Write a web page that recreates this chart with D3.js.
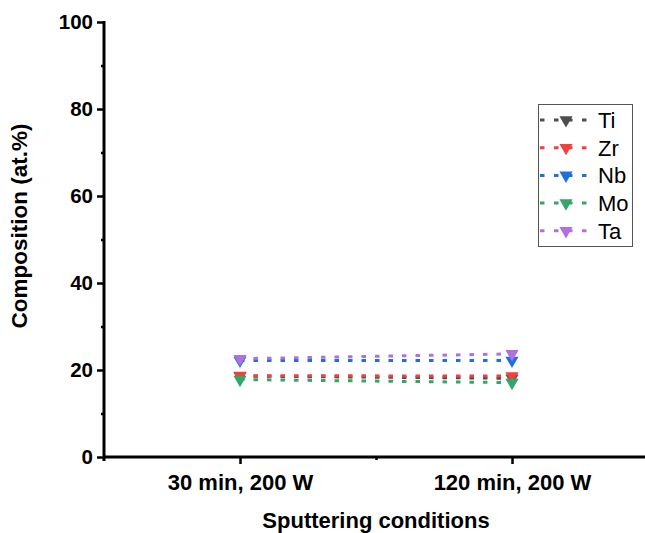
<!DOCTYPE html>
<html>
<head>
<meta charset="utf-8">
<script src="https://cdn.jsdelivr.net/npm/d3@7"></script>
<style>
  body { margin: 0; background: #fff; }
  svg { display: block; font-family: "Liberation Sans", Arial, sans-serif; }
</style>
</head>
<body>
<svg id="chart" width="645" height="533"></svg>
<script>
// Sputtering conditions (x categories)
const conditions = ["30 min, 200 W", "120 min, 200 W"];
// Element names and colours
const elements = ["Ti", "Zr", "Nb", "Mo", "Ta"];
const colors = ["#4d4d4d", "#f0403f", "#1f6fe0", "#33a66b", "#b070e0"];
// Composition (at.%) per element, one value per condition
const tiValues = [18.6, 18.1];
const zrValues = [18.7, 18.6];
const nbValues = [22.2, 22.2];
const moValues = [17.8, 17.1];
const taValues = [22.6, 23.7];
const yTicks = [0, 20, 40, 60, 80, 100];

const series = [tiValues, zrValues, nbValues, moValues, taValues];

const svg = d3.select("#chart");
const plotLeft = 104, plotRight = 648, plotTop = 22, plotBottom = 457;

const x = d3.scaleLinear().domain([0.5, 2.5]).range([plotLeft, plotRight]);
const y = d3.scaleLinear().domain([0, 100]).range([plotBottom, plotTop]);

// Y axis: major ticks every 20, minor ticks every 10
const yAxis = svg.append("g").attr("transform", `translate(${plotLeft},0)`)
  .call(d3.axisLeft(y).tickValues(yTicks).tickSize(7).tickPadding(4));
yAxis.select(".domain").remove();
yAxis.selectAll(".tick line").attr("stroke", "#000").attr("stroke-width", 2.5);
yAxis.selectAll(".tick text").attr("font-size", 20.5).attr("font-weight", "bold").attr("fill", "#000");
svg.append("g").attr("transform", `translate(${plotLeft},0)`)
  .call(d3.axisLeft(y).tickValues(d3.range(10, 100, 20)).tickSize(3).tickFormat(""))
  .call(g => g.select(".domain").remove())
  .selectAll(".tick line").attr("stroke", "#000").attr("stroke-width", 2.5);

// X axis: major ticks at categories, minor tick between
const xAxis = svg.append("g").attr("transform", `translate(0,${plotBottom})`)
  .call(d3.axisBottom(x).tickValues([1, 2]).tickFormat((d) => conditions[d - 1]).tickSize(7).tickPadding(10));
xAxis.select(".domain").remove();
xAxis.selectAll(".tick line").attr("stroke", "#000").attr("stroke-width", 2.5);
xAxis.selectAll(".tick text").attr("font-size", 22).attr("font-weight", "bold").attr("fill", "#000");
svg.append("g").attr("transform", `translate(0,${plotBottom})`)
  .call(d3.axisBottom(x).tickValues([1.5]).tickSize(3).tickFormat(""))
  .call(g => g.select(".domain").remove())
  .selectAll(".tick line").attr("stroke", "#000").attr("stroke-width", 2.5);

// Axis lines
svg.append("line").attr("x1", plotLeft).attr("x2", plotLeft).attr("y1", plotTop - 1).attr("y2", plotBottom + 4)
  .attr("stroke", "#000").attr("stroke-width", 3);
svg.append("line").attr("x1", plotLeft).attr("x2", plotRight).attr("y1", plotBottom).attr("y2", plotBottom)
  .attr("stroke", "#000").attr("stroke-width", 3);

// Axis titles
svg.append("text").attr("x", 376).attr("y", 528).attr("text-anchor", "middle")
  .attr("font-size", 22).attr("font-weight", "bold").text("Sputtering conditions");
svg.append("text").attr("transform", "translate(27,226) rotate(-90)")
  .attr("text-anchor", "middle").attr("font-size", 22.5).attr("font-weight", "bold")
  .text("Composition (at.%)");

const tri = d3.symbol().type(d3.symbolTriangle).size(75);
const line = d3.line().x((d, i) => x(i + 1)).y((d) => y(d));

// Series lines and markers
series.forEach((vals, k) => {
  const g = svg.append("g");
  g.append("path").attr("d", line(vals)).attr("fill", "none")
    .attr("stroke", colors[k]).attr("stroke-width", 3).attr("stroke-dasharray", "4.5 9");
  g.selectAll("path.m").data(vals).join("path").attr("class", "m")
    .attr("d", tri)
    .attr("transform", (d, i) => `translate(${x(i + 1)},${y(d)}) rotate(180)`)
    .attr("fill", colors[k]);
});

// Legend
const lg = svg.append("g");
lg.append("rect").attr("x", 538.5).attr("y", 104.5).attr("width", 94).attr("height", 142)
  .attr("fill", "#fff").attr("stroke", "#555").attr("stroke-width", 1);
elements.forEach((name, k) => {
  const yy = 120 + k * 27.7;
  lg.append("line").attr("x1", 540).attr("x2", 588).attr("y1", yy).attr("y2", yy)
    .attr("stroke", colors[k]).attr("stroke-width", 3).attr("stroke-dasharray", "4.5 9.5");
  lg.append("path").attr("d", tri).attr("transform", `translate(566,${yy}) rotate(180)`)
    .attr("fill", colors[k]);
  lg.append("text").attr("x", 598).attr("y", yy + 8).attr("font-size", 22).text(name);
});
</script>
</body>
</html>
